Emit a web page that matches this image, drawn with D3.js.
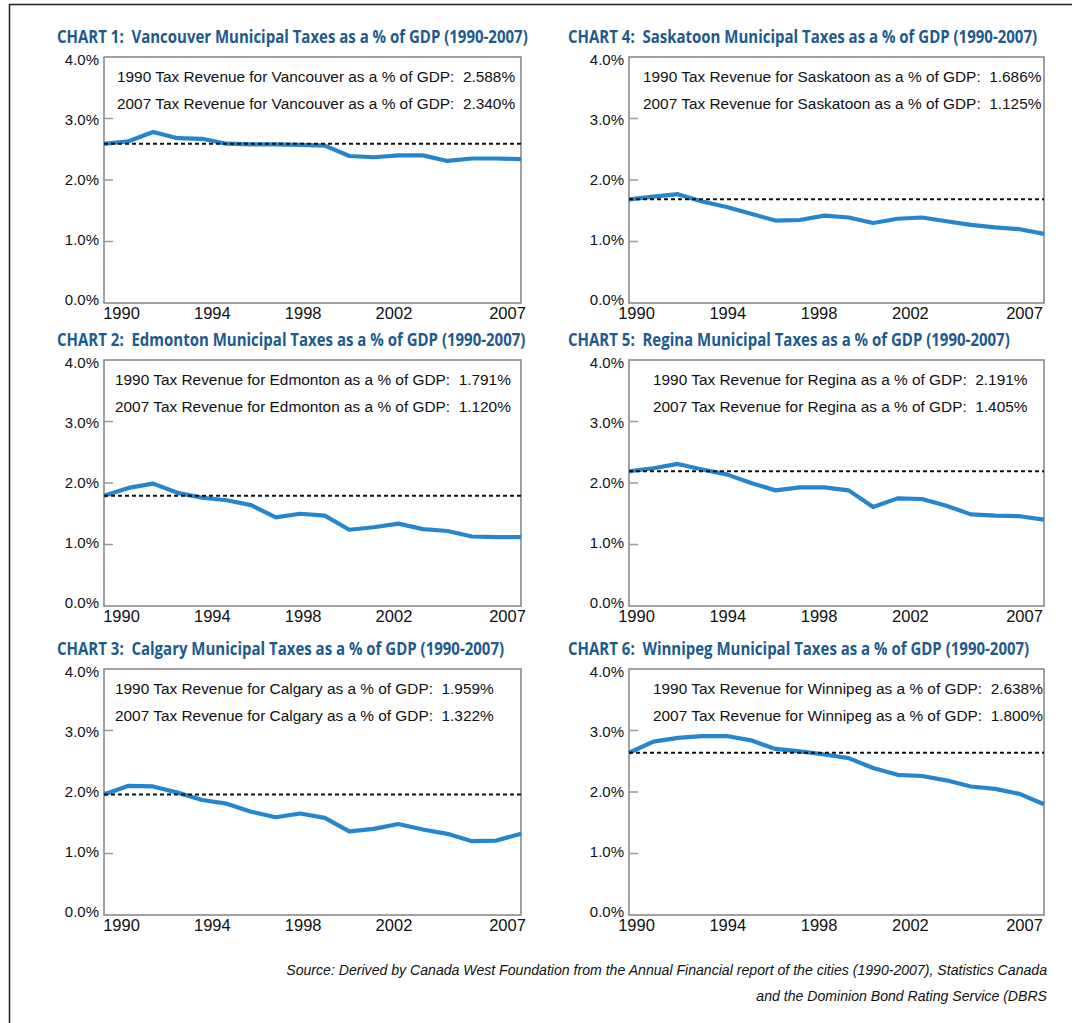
<!DOCTYPE html>
<html>
<head>
<meta charset="utf-8">
<script src="https://cdn.jsdelivr.net/npm/d3@7"></script>
<style>
  body { margin: 0; background: #fff; }
  text { white-space: pre; }
</style>
</head>
<body>
<div id="chart"></div>
<script>
// Municipal taxes as a % of GDP, six western Canadian cities

var years = [1990, 1991, 1992, 1993, 1994, 1995, 1996, 1997, 1998, 1999,
             2000, 2001, 2002, 2003, 2004, 2005, 2006, 2007];
var xTickYears = [1990, 1994, 1998, 2002, 2007];
var yTicks = [0, 1, 2, 3, 4];

// values (first and last are the printed ones)
var vancouver = [2.588, 2.63, 2.78, 2.68, 2.67, 2.59, 2.58, 2.58, 2.57, 2.56,
                 2.39, 2.37, 2.40, 2.40, 2.31, 2.35, 2.35, 2.340];
var edmonton  = [1.791, 1.92, 1.99, 1.84, 1.76, 1.72, 1.64, 1.44, 1.50, 1.47,
                 1.24, 1.28, 1.34, 1.25, 1.22, 1.13, 1.12, 1.120];
var calgary   = [1.959, 2.10, 2.09, 1.99, 1.87, 1.81, 1.68, 1.59, 1.65, 1.58,
                 1.36, 1.40, 1.48, 1.39, 1.32, 1.20, 1.21, 1.322];
var saskatoon = [1.686, 1.73, 1.77, 1.65, 1.56, 1.45, 1.34, 1.35, 1.42, 1.39,
                 1.30, 1.37, 1.39, 1.33, 1.27, 1.23, 1.20, 1.125];
var regina    = [2.191, 2.24, 2.31, 2.22, 2.14, 2.00, 1.88, 1.93, 1.93, 1.88,
                 1.61, 1.75, 1.74, 1.63, 1.49, 1.47, 1.46, 1.405];
var winnipeg  = [2.638, 2.82, 2.88, 2.91, 2.91, 2.84, 2.70, 2.66, 2.61, 2.55,
                 2.39, 2.28, 2.26, 2.19, 2.09, 2.05, 1.97, 1.800];

var cities = ["Vancouver", "Edmonton", "Calgary", "Saskatoon", "Regina", "Winnipeg"];
var chartNumbers = [1, 2, 3, 4, 5, 6];
var series = [vancouver, edmonton, calgary, saskatoon, regina, winnipeg];

var sourceLines = [
  "Source: Derived by Canada West Foundation from the Annual Financial report of the cities (1990-2007), Statistics Canada",
  "and the Dominion Bond Rating Service (DBRS"
];

// layout
var W = 1072, H = 1023;
var rowTops = [57, 360, 669];
var plotH = 246;
var colLefts = [104, 629];
var colWidths = [417, 415];
var titleLefts = [57, 568];
var labelPads = [[17, 14], [7, 20]];       // x label offsets inside each column
var noteOffsets = [13, 11, 11, 14, 24, 24]; // note text indent per chart

var blue = "#2586cf";
var titleBlue = "#1e5a8e";
var fmt = d3.format(".3f");
var bodyFont = "'Liberation Sans', Arial, sans-serif";

var svg = d3.select("#chart").append("svg")
  .attr("width", W)
  .attr("height", H);

svg.append("rect").attr("width", W).attr("height", H).attr("fill", "#fff");

// outer frame (only left and top visible)
svg.append("rect")
  .attr("x", 9.5).attr("y", 4.5)
  .attr("width", 1200).attr("height", 1200)
  .attr("fill", "none").attr("stroke", "#222").attr("stroke-width", 1.5);

var titleScale = null;

cities.forEach(function(city, i) {
  var col = i < 3 ? 0 : 1;
  var row = i % 3;
  var x0 = colLefts[col], w = colWidths[col];
  var y0 = rowTops[row];
  var vals = series[i];

  var g = svg.append("g");

  var x = d3.scaleLinear().domain([1990, 2007]).range([x0, x0 + w]);
  var xLab = d3.scaleLinear().domain([1990, 2007])
    .range([x0 + labelPads[col][0], x0 + w - labelPads[col][1]]);
  var y = d3.scaleLinear().domain([0, 4]).range([y0 + plotH, y0]);
  // tick labels sit a little inside the frame
  var yLab = d3.scaleLinear().domain([0, 4]).range([y0 + plotH - 3, y0 + 3]);

  // title
  var title = g.append("text")
    .attr("font-family", "'Open Sans', sans-serif")
    .attr("font-weight", "bold")
    .attr("font-size", 18.5)
    .attr("fill", titleBlue)
    .text("CHART " + chartNumbers[i] + ":  " + city + " Municipal Taxes as a % of GDP (1990-2007)");
  if (titleScale === null) {
    titleScale = 471 / title.node().getComputedTextLength();
  }
  title.attr("transform", "translate(" + titleLefts[col] + "," + (y0 - 14) + ") scale(" + titleScale + ",1)");

  // plot frame
  g.append("rect")
    .attr("x", x0).attr("y", y0)
    .attr("width", w).attr("height", plotH)
    .attr("fill", "#fff")
    .attr("stroke", "#8a8a8a")
    .attr("stroke-width", 1.6);

  // y axis labels
  var yAxis = d3.axisLeft(yLab)
    .tickValues(yTicks)
    .tickSize(0)
    .tickPadding(5)
    .tickFormat(function(d) { return d3.format(".1f")(d) + "%"; });
  var ya = g.append("g").attr("transform", "translate(" + x0 + ",0)").call(yAxis);
  ya.select(".domain").remove();
  ya.selectAll("text")
    .attr("font-family", bodyFont)
    .attr("font-size", 15)
    .attr("fill", "#111");

  // little inner ticks
  g.selectAll(".itick").data([1, 2, 3]).enter().append("line")
    .attr("x1", x0).attr("x2", x0 + 9)
    .attr("y1", function(d) { return y(d); })
    .attr("y2", function(d) { return y(d); })
    .attr("stroke", "#999").attr("stroke-width", 1.5);

  // x axis labels
  var xAxis = d3.axisBottom(xLab)
    .tickValues(xTickYears)
    .tickSize(0)
    .tickPadding(4)
    .tickFormat(d3.format("d"));
  var xa = g.append("g").attr("transform", "translate(0," + (y0 + plotH) + ")").call(xAxis);
  xa.select(".domain").remove();
  xa.selectAll("text")
    .attr("font-family", bodyFont)
    .attr("font-size", 16.5)
    .attr("fill", "#111");

  // notes
  var noteX = x0 + noteOffsets[i];
  g.append("text")
    .attr("x", noteX).attr("y", y0 + 25)
    .attr("font-family", bodyFont)
    .attr("font-size", 15.4)
    .attr("fill", "#111")
    .text("1990 Tax Revenue for " + city + " as a % of GDP:  " + fmt(vals[0]) + "%");
  g.append("text")
    .attr("x", noteX).attr("y", y0 + 52)
    .attr("font-family", bodyFont)
    .attr("font-size", 15.4)
    .attr("fill", "#111")
    .text("2007 Tax Revenue for " + city + " as a % of GDP:  " + fmt(vals[vals.length - 1]) + "%");

  // series line
  var line = d3.line()
    .x(function(d, k) { return x(years[k]); })
    .y(function(d) { return y(d); });
  g.append("path")
    .datum(vals)
    .attr("d", line)
    .attr("fill", "none")
    .attr("stroke", blue)
    .attr("stroke-width", 4.2)
    .attr("stroke-linejoin", "round");

  // 1990 reference dashed line
  g.append("line")
    .attr("x1", x(1990)).attr("x2", x(2007))
    .attr("y1", y(vals[0])).attr("y2", y(vals[0]))
    .attr("stroke", "#111")
    .attr("stroke-width", 2)
    .attr("stroke-dasharray", "4,3");
});

// source
svg.selectAll(".src").data(sourceLines).enter().append("text")
  .attr("x", 1047)
  .attr("y", function(d, k) { return 975 + k * 26; })
  .attr("text-anchor", "end")
  .attr("font-family", bodyFont)
  .attr("font-style", "italic")
  .attr("font-size", 14.1)
  .attr("fill", "#111")
  .text(function(d) { return d; });
</script>
</body>
</html>
